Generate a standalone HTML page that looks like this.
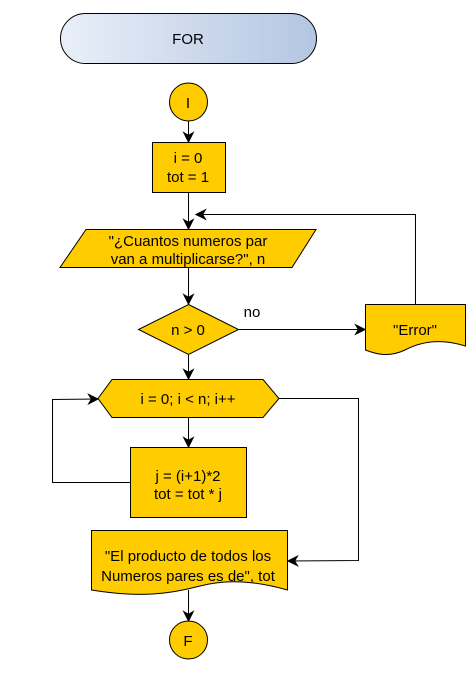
<!DOCTYPE html>
<html><head><meta charset="utf-8"><style>
html,body{margin:0;padding:0;background:#fff;}
svg{display:block;font-family:"Liberation Sans",Arial,sans-serif;}
</style></head><body>
<svg width="469" height="680" viewBox="0 0 469 680" xmlns="http://www.w3.org/2000/svg">
<defs>
<linearGradient id="g" x1="0" x2="1" y1="0" y2="0">
<stop offset="0" stop-color="#e9eff8"/><stop offset="1" stop-color="#b3c6e1"/>
</linearGradient>
<marker id="a" viewBox="0 0 10 10" refX="9" refY="5" markerWidth="12" markerHeight="12" orient="auto" markerUnits="userSpaceOnUse">
<path d="M0,0 L10,5 L0,10 L3,5 Z" fill="#000"/>
</marker>
</defs>
<g stroke="#000" stroke-width="1" fill="#ffcc00">
<rect x="60.5" y="13.5" width="256" height="50" rx="25" fill="url(#g)"/>
<circle cx="188.5" cy="102" r="19"/>
<rect x="152.5" y="142.5" width="73" height="50"/>
<polygon points="86,229.5 316,229.5 292,267.5 60,267.5"/>
<polygon points="188.5,304.5 238.5,329.5 188.5,354.5 138.5,329.5"/>
<path d="M365.5,304.5 H465.5 V346 C440,338 420,342 405,350 C390,357 378,355 365.5,350 Z"/>
<polygon points="98,398.5 112,379.5 263,379.5 279,398.5 263,417.5 112,417.5"/>
<rect x="130.5" y="447.5" width="116" height="70"/>
<path d="M91.5,530.5 H287.5 V590 C260,582 230,578 200,586 C170,594 140,598 91.5,590 Z"/>
<circle cx="188.5" cy="640" r="19"/>
</g>
<g stroke="#000" stroke-width="1" fill="none">
<line x1="188.5" y1="121" x2="188.5" y2="142" marker-end="url(#a)"/>
<line x1="188.5" y1="193" x2="188.5" y2="229" marker-end="url(#a)"/>
<polyline points="415.5,304 415.5,214.5 196,214.5" marker-end="url(#a)"/>
<line x1="188.5" y1="268" x2="188.5" y2="304" marker-end="url(#a)"/>
<line x1="239" y1="329.5" x2="365" y2="329.5" marker-end="url(#a)"/>
<line x1="188.5" y1="355" x2="188.5" y2="379" marker-end="url(#a)"/>
<line x1="188.5" y1="418" x2="188.5" y2="447" marker-end="url(#a)"/>
<polyline points="130,482.5 52.5,482.5 52.5,399.5 98,399" marker-end="url(#a)"/>
<polyline points="279,398.5 358.5,398.5 358.5,560.5 288,561" marker-end="url(#a)"/>
<line x1="188.5" y1="590" x2="188.5" y2="621" marker-end="url(#a)"/>
</g>
<g font-size="15" fill="#000" text-anchor="middle">
<text x="188" y="44">FOR</text>
<text x="188" y="108">I</text>
<text x="188" y="163">i = 0</text>
<text x="188" y="182">tot = 1</text>
<text x="188" y="246">"¿Cuantos numeros par</text>
<text x="188" y="264">van a multiplicarse?", n</text>
<text x="188" y="335">n &gt; 0</text>
<text x="252" y="317">no</text>
<text x="415" y="335">"Error"</text>
<text x="188" y="404">i = 0; i &lt; n; i++</text>
<text x="188" y="481">j = (i+1)*2</text>
<text x="188" y="499">tot = tot * j</text>
<text x="188" y="561">"El producto de todos los</text>
<text x="188" y="581">Numeros pares es de", tot</text>
<text x="188" y="646">F</text>
</g>
</svg>
</body></html>
